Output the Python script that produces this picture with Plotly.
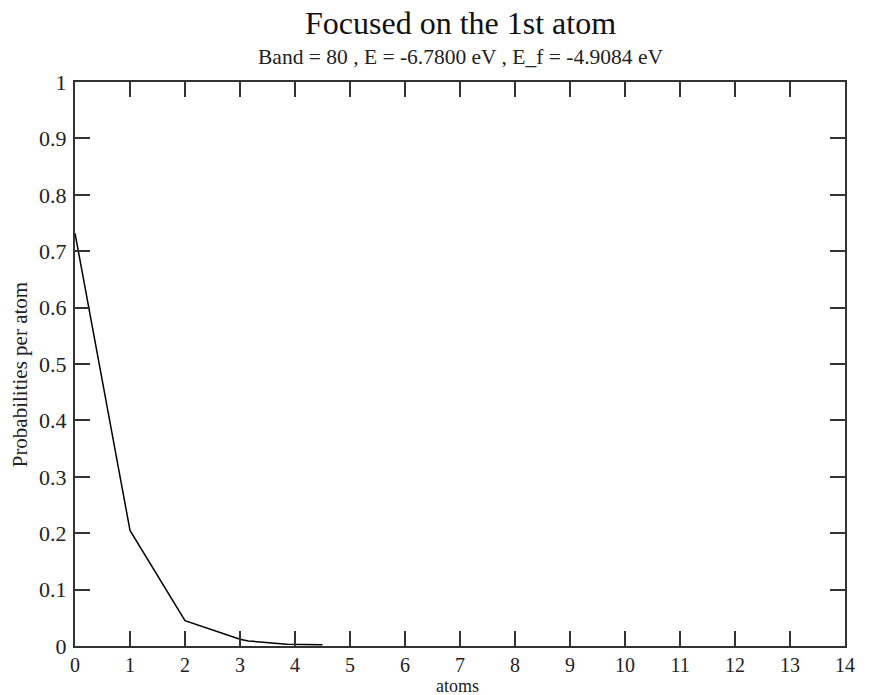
import plotly.graph_objects as go

# Data
atoms = [0, 1, 2, 3, 3.15, 3.5, 3.85, 4.5]
prob = [0.732, 0.205, 0.045, 0.012, 0.009, 0.006, 0.003, 0.002]

title_text = "Focused on the 1st atom"
subtitle_text = "Band = 80 , E = -6.7800 eV , E_f = -4.9084 eV"
x_title = "atoms"
y_title = "Probabilities per atom"
x_ticks = list(range(0, 15))
y_ticks = [0, 0.1, 0.2, 0.3, 0.4, 0.5, 0.6, 0.7, 0.8, 0.9, 1]
y_ticktext = ["0", "0.1", "0.2", "0.3", "0.4", "0.5", "0.6", "0.7", "0.8", "0.9", "1"]

FONT = "Liberation Serif"

fig = go.Figure()
fig.add_trace(go.Scatter(x=atoms, y=prob, mode="lines",
                         line=dict(color="black", width=1.5),
                         showlegend=False, hoverinfo="skip"))

axis_common = dict(showline=True, linecolor="#333333", linewidth=2, mirror="ticks",
                   ticks="inside", ticklen=15, tickwidth=1.5, tickcolor="#333333",
                   showgrid=False, zeroline=False)

fig.update_layout(
    width=872, height=695,
    margin=dict(l=75, r=27, t=82, b=49),
    paper_bgcolor="white", plot_bgcolor="white",
    xaxis=dict(range=[0, 14], tickvals=x_ticks, ticklabelstandoff=0,
               tickfont=dict(family=FONT, size=20, color="#222222"), **axis_common),
    yaxis=dict(range=[0, 1], tickvals=y_ticks, ticktext=y_ticktext, ticklabelstandoff=2,
               tickfont=dict(family=FONT, size=22, color="#222222"), **axis_common),
    annotations=[
        dict(text=title_text, xref="paper", yref="paper", x=0.5, y=1.1046,
             xanchor="center", yanchor="middle", showarrow=False,
             font=dict(family=FONT, size=32, color="#111111")),
        dict(text=subtitle_text, xref="paper", yref="paper", x=0.5, y=1.0443,
             xanchor="center", yanchor="middle", showarrow=False,
             font=dict(family=FONT, size=21.5, color="#222222")),
        dict(text=x_title, xref="paper", yref="paper", x=0.497, y=-0.0705,
             xanchor="center", yanchor="middle", showarrow=False, borderpad=0,
             font=dict(family=FONT, size=18, color="#222222")),
        dict(text=y_title, xref="paper", yref="paper", x=-0.0714, y=0.48,
             xanchor="center", yanchor="middle", textangle=-90, showarrow=False,
             font=dict(family=FONT, size=21, color="#222222")),
    ],
)

fig.write_html("out.html")
